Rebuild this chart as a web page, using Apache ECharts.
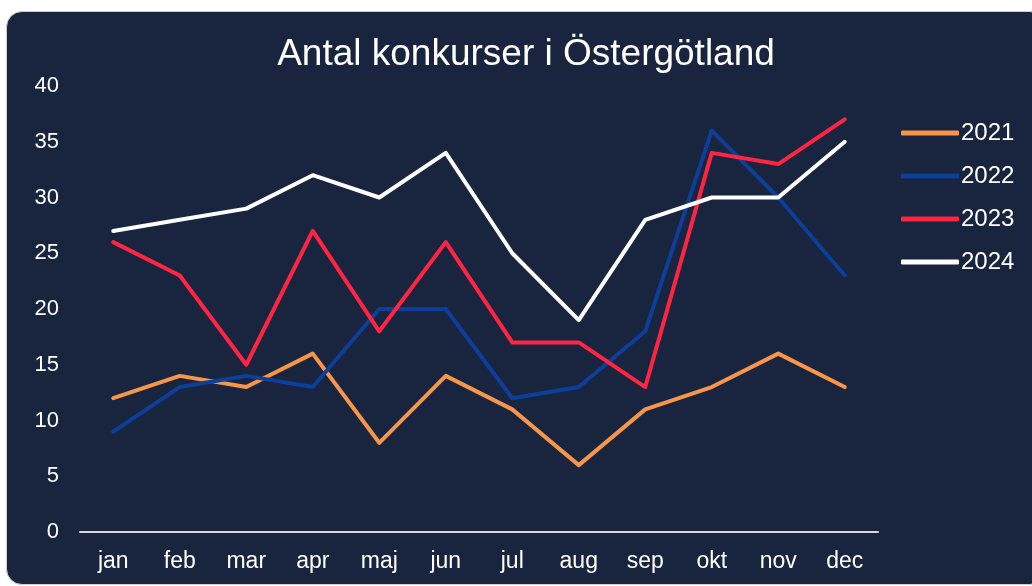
<!DOCTYPE html>
<html>
<head>
<meta charset="utf-8">
<script src="https://cdn.jsdelivr.net/npm/echarts@6/dist/echarts.min.js"></script>
<style>
html,body{margin:0;padding:0;background:#ffffff;width:1032px;height:586px;overflow:hidden;}
#card{position:absolute;left:6px;top:11px;width:1040px;height:574px;background:#19253f;border:1px solid #cfcfcf;border-radius:16px;box-sizing:border-box;}
#chart{position:absolute;left:0;top:0;width:1032px;height:586px;}
</style>
</head>
<body>
<div id="card"></div>
<div id="chart"></div>
<script>
const months = ['jan','feb','mar','apr','maj','jun','jul','aug','sep','okt','nov','dec'];
const s2021 = [12,14,13,16,8,14,11,6,11,13,16,13];
const s2022 = [9,13,14,13,20,20,12,13,18,36,30,23];
const s2023 = [26,23,15,27,18,26,17,17,13,34,33,37];
const s2024 = [27,28,29,32,30,34,25,19,28,30,30,35];
const seriesNames = ['2021','2022','2023','2024'];
const colors = ['#f7964a','#0d3e99','#ff2442','#ffffff'];

const chart = echarts.init(document.getElementById('chart'), null, {renderer:'canvas'});
const font = 'Liberation Sans, Arial, sans-serif';
const data = [s2021, s2022, s2023, s2024];
chart.setOption({
  backgroundColor: 'transparent',
  animation: false,
  color: colors,
  title: {
    text: 'Antal konkurser i Östergötland',
    left: 521, textAlign: 'center', top: 31,
    textStyle: {color:'#ffffff', fontFamily: font, fontWeight:'normal', fontSize: 37}
  },
  legend: {
    orient: 'vertical', left: 896, top: 116,
    itemWidth: 58, itemHeight: 5, itemGap: 19,
    icon: 'roundRect',
    textStyle: {color:'#ffffff', fontFamily: font, fontSize: 24, lineHeight: 20, padding:[0,0,0,-3]},
    data: seriesNames
  },
  grid: {left: 80, right: 154, top: 86, bottom: 54, containLabel: false},
  xAxis: {
    type: 'category', data: months, boundaryGap: true,
    axisLine: {lineStyle: {color:'#d9d9d9', width: 2}},
    axisTick: {show: false},
    axisLabel: {color:'#ffffff', fontFamily: font, fontSize: 23, margin: 18}
  },
  yAxis: {
    type: 'value', min: 0, max: 40, interval: 5,
    axisLine: {show: false}, axisTick: {show: false},
    splitLine: {show: false},
    axisLabel: {color:'#ffffff', fontFamily: font, fontSize: 22, margin: 21}
  },
  series: data.map((d,i) => ({
    name: seriesNames[i], type: 'line', data: d,
    showSymbol: false, symbol: 'none',
    lineStyle: {width: 4, color: colors[i], cap: 'round', join: 'round'},
    itemStyle: {color: colors[i]}
  }))
});
</script>
</body>
</html>
